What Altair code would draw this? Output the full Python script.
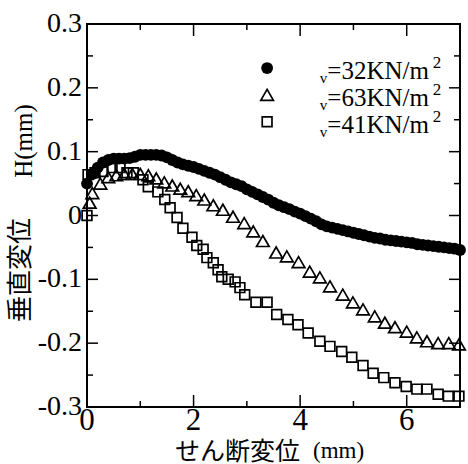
import altair as alt
import pandas as pd

# ---- data ----
x_a = [0.0, 0.1, 0.2, 0.3, 0.4, 0.5, 0.6, 0.7, 0.8, 0.9,
       1.0, 1.1, 1.2, 1.3, 1.4, 1.5, 1.6, 1.7, 1.8, 1.9,
       2.0, 2.1, 2.2, 2.3, 2.4, 2.5, 2.6, 2.7, 2.8, 2.9,
       3.0, 3.1, 3.2, 3.3, 3.4, 3.5, 3.6, 3.7, 3.8, 3.9,
       4.0, 4.1, 4.2, 4.3, 4.4, 4.5, 4.6, 4.7, 4.8, 4.9,
       5.0, 5.1, 5.2, 5.3, 5.4, 5.5, 5.6, 5.7, 5.8, 5.9,
       6.0, 6.1, 6.2, 6.3, 6.4, 6.5, 6.6, 6.7, 6.8, 6.9, 7.0]
y_a = [0.050, 0.065, 0.075, 0.083, 0.087, 0.089, 0.089, 0.089, 0.090, 0.092,
       0.095, 0.095, 0.095, 0.095, 0.094, 0.091, 0.087, 0.083, 0.080, 0.078,
       0.076, 0.073, 0.070, 0.067, 0.064, 0.060, 0.056, 0.052, 0.049, 0.046,
       0.041, 0.037, 0.033, 0.029, 0.025, 0.020, 0.016, 0.013, 0.010, 0.006,
       0.003, -0.001, -0.005, -0.009, -0.014, -0.017, -0.019, -0.021, -0.023, -0.025,
       -0.027, -0.029, -0.031, -0.033, -0.035, -0.036, -0.038, -0.039, -0.040, -0.041,
       -0.042, -0.043, -0.045, -0.046, -0.047, -0.048, -0.049, -0.050, -0.051, -0.052, -0.054]

x_b = [0.05, 0.10, 0.25, 0.40, 0.55, 0.70, 0.85, 1.00, 1.15, 1.30,
       1.45, 1.60, 1.75, 1.90, 2.05, 2.20, 2.37, 2.55, 2.74, 2.95,
       3.12, 3.30, 3.55, 3.75, 3.97, 4.18, 4.37, 4.56, 4.80, 4.99,
       5.18, 5.40, 5.59, 5.78, 6.00, 6.19, 6.38, 6.59, 6.79, 6.98]
y_b = [0.020, 0.035, 0.050, 0.060, 0.063, 0.065, 0.065, 0.065, 0.063, 0.058,
       0.052, 0.047, 0.042, 0.038, 0.032, 0.025, 0.016, 0.009, -0.002, -0.012,
       -0.025, -0.040, -0.058, -0.064, -0.073, -0.088, -0.097, -0.111, -0.124, -0.136,
       -0.147, -0.158, -0.168, -0.175, -0.182, -0.191, -0.197, -0.200, -0.200, -0.202]

x_c = [0.00, 0.02, 0.15, 0.30, 0.47, 0.62, 0.75, 0.87, 1.05, 1.15,
       1.33, 1.46, 1.56, 1.69, 1.80, 1.97, 2.06, 2.18, 2.25, 2.37,
       2.46, 2.53, 2.65, 2.78, 2.87, 2.96, 3.17, 3.38, 3.56, 3.77,
       3.96, 4.15, 4.37, 4.56, 4.78, 4.97, 5.18, 5.37, 5.57, 5.78,
       5.99, 6.19, 6.38, 6.59, 6.78, 6.98]
y_c = [0.000, 0.064, 0.067, 0.069, 0.075, 0.075, 0.067, 0.067, 0.056, 0.045,
       0.037, 0.025, 0.012, -0.003, -0.020, -0.034, -0.047, -0.053, -0.066, -0.074,
       -0.085, -0.096, -0.100, -0.104, -0.113, -0.124, -0.136, -0.136, -0.155, -0.163,
       -0.171, -0.184, -0.197, -0.205, -0.213, -0.222, -0.235, -0.247, -0.254, -0.262,
       -0.268, -0.272, -0.272, -0.280, -0.283, -0.283]

legend_labels = ["=32KN/m", "=63KN/m", "=41KN/m"]
x_tick_labels = ["0", "2", "4", "6"]
x_ticks_major = [0, 2, 4, 6]
x_ticks_minor = [1, 3, 5, 7]
y_tick_labels = ["-0.3", "-0.2", "-0.1", "0", "0.1", "0.2", "0.3"]
y_label_values = [-0.3, -0.2, -0.1, 0.0, 0.1, 0.2, 0.3]
y_ticks_major = [-0.2, -0.1, 0.0, 0.1, 0.2]
y_ticks_minor = [-0.25, -0.15, -0.05, 0.05, 0.15, 0.25]

# ---- layout constants ----
W, H = 373, 383
SERIF = "Liberation Serif"
JP = "Noto Sans CJK JP"
XS = alt.Scale(domain=[0, 7], nice=False, zero=False)
YS = alt.Scale(domain=[-0.3, 0.3], nice=False, zero=False)
SZ_CIRCLE, SZ_TRI, SZ_SQ = 140, 160, 95

df_a = pd.DataFrame({"x": x_a, "y": y_a})
df_b = pd.DataFrame({"x": x_b, "y": y_b})
df_c = pd.DataFrame({"x": x_c, "y": y_c})

def X(field="x"):
    return alt.X(f"{field}:Q", scale=XS, axis=None)

def Y(field="y"):
    return alt.Y(f"{field}:Q", scale=YS, axis=None)

# tick marks (inward, on all four sides)
def yticks(vals, length):
    d = pd.DataFrame({"y": vals})
    left = alt.Chart(d).mark_rule(color="black", strokeWidth=1.5).encode(
        y=Y(), x=alt.value(0), x2=alt.value(length))
    right = alt.Chart(d).mark_rule(color="black", strokeWidth=1.5).encode(
        y=Y(), x=alt.value(W), x2=alt.value(W - length))
    return left + right

def xticks(vals, length):
    d = pd.DataFrame({"x": vals})
    bottom = alt.Chart(d).mark_rule(color="black", strokeWidth=1.5).encode(
        x=X(), y=alt.value(H), y2=alt.value(H - length))
    top = alt.Chart(d).mark_rule(color="black", strokeWidth=1.5).encode(
        x=X(), y=alt.value(0), y2=alt.value(length))
    return bottom + top

ticks = yticks(y_ticks_major, 11) + yticks(y_ticks_minor, 6) + xticks(x_ticks_major, 12) + xticks(x_ticks_minor, 6)

# tick labels (serif), placed through the scales
ylab = alt.Chart(pd.DataFrame({"y": y_label_values, "t": y_tick_labels})).mark_text(
    font=SERIF, fontSize=28, align="right", baseline="middle", color="black").encode(
    y=Y(), x=alt.value(-5), text="t:N")
xlab = alt.Chart(pd.DataFrame({"x": x_ticks_major, "t": x_tick_labels})).mark_text(
    font=SERIF, fontSize=31, align="center", baseline="top", color="black").encode(
    x=X(), y=alt.value(H - 1), text="t:N")

pts_c = alt.Chart(df_c).mark_point(shape="square", filled=False, color="black",
                                   strokeWidth=1.7, size=SZ_SQ, opacity=1).encode(x=X(), y=Y())
pts_b = alt.Chart(df_b).mark_point(shape="triangle-up", filled=False, color="black",
                                   strokeWidth=1.7, size=SZ_TRI, opacity=1).encode(x=X(), y=Y())
pts_a = alt.Chart(df_a).mark_point(shape="circle", filled=True, color="black",
                                   size=SZ_CIRCLE, opacity=1).encode(x=X(), y=Y())

# ---- legend (manual, placed inside the plot) ----
leg_marker_x = 3.38
leg_text_x = 4.51
leg_sub_x = 4.37
leg_sup_x = 6.49
leg_y = [0.231, 0.189, 0.147]

leg_df = pd.DataFrame({"y": leg_y, "label": legend_labels})
LX = alt.datum(leg_marker_x, scale=XS, axis=None)
leg_circle = alt.Chart(leg_df.iloc[[0]]).mark_point(shape="circle", filled=True, color="black",
                                                    size=SZ_CIRCLE, opacity=1).encode(x=LX, y=Y())
leg_tri = alt.Chart(leg_df.iloc[[1]]).mark_point(shape="triangle-up", filled=False, color="black",
                                                 strokeWidth=1.7, size=SZ_TRI, opacity=1).encode(x=LX, y=Y())
leg_sq = alt.Chart(leg_df.iloc[[2]]).mark_point(shape="square", filled=False, color="black",
                                                strokeWidth=1.7, size=SZ_SQ, opacity=1).encode(x=LX, y=Y())
leg_text = alt.Chart(leg_df).mark_text(font=SERIF, fontSize=25, align="left",
                                       baseline="alphabetic", dy=11, color="black").encode(
    x=alt.datum(leg_text_x, scale=XS, axis=None), y=Y(), text="label:N")
leg_sub = alt.Chart(leg_df).mark_text(font=SERIF, fontSize=15, align="left",
                                      baseline="alphabetic", dy=15, color="black", text="v").encode(
    x=alt.datum(leg_sub_x, scale=XS, axis=None), y=Y())
leg_sup = alt.Chart(leg_df).mark_text(font=SERIF, fontSize=17, align="left",
                                      baseline="alphabetic", dy=0, color="black", text="2").encode(
    x=alt.datum(leg_sup_x, scale=XS, axis=None), y=Y())

legend = leg_circle + leg_tri + leg_sq + leg_text + leg_sub + leg_sup

# ---- axis titles as text ----
title_df = pd.DataFrame({"t": ["x"]})
xt_jp = alt.Chart(title_df).mark_text(font=JP, fontSize=25, align="left", baseline="alphabetic",
                                      color="black", text="せん断変位").encode(
    x=alt.value(88), y=alt.value(436))
xt_mm = alt.Chart(title_df).mark_text(font=SERIF, fontSize=23, align="left", baseline="alphabetic",
                                      color="black", text="(mm)").encode(
    x=alt.value(226), y=alt.value(434))
yt_jp = alt.Chart(title_df).mark_text(font=JP, fontSize=26, align="center", baseline="middle",
                                      angle=270, color="black", text="垂直変位").encode(
    x=alt.value(-66), y=alt.value(246))
yt_mm = alt.Chart(title_df).mark_text(font=SERIF, fontSize=25, align="center", baseline="middle",
                                      angle=270, color="black", text="H(mm)").encode(
    x=alt.value(-63), y=alt.value(117))

chart = alt.layer(ticks, ylab, xlab, pts_c, pts_b, pts_a, legend,
                  xt_jp, xt_mm, yt_jp, yt_mm).properties(
    width=W, height=H,
    autosize=alt.AutoSizeParams(type="none"),
    padding={"left": 87, "top": 24, "right": 8, "bottom": 57},
    background="white",
).configure_view(stroke="black", strokeWidth=2)

chart.save("out.html", embed_options={"renderer": "svg", "actions": False})
